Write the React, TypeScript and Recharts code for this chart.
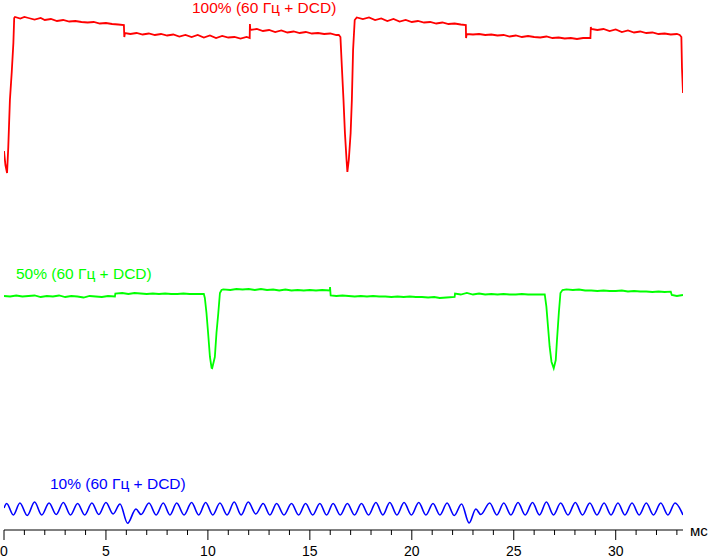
import React from 'react';
import { LineChart, Line, XAxis, YAxis } from 'recharts';

// time in ms, level in arbitrary units (0 = axis line)
const redTrace: [number, number][] = [
  [0, 379], [0.07, 365], [0.15, 357], [0.21, 383], [0.29, 430], [0.38, 458], [0.46, 487], [0.5, 512], [0.54, 513],
  [0.8, 511.5], [1.0, 513], [1.2, 512], [1.5, 510.5], [1.8, 512], [2.0, 510], [2.3, 511], [2.6, 509], [2.9, 510],
  [3.2, 508.5], [3.5, 509], [3.8, 508], [4.1, 507.5], [4.4, 508], [4.7, 506.5], [5.0, 507], [5.3, 506], [5.6, 505.5], [5.88, 505],
  [5.9, 493], [5.93, 497],
  [6.2, 496], [6.5, 497], [6.8, 495.5], [7.1, 496.5], [7.4, 495], [7.7, 496], [8.0, 494.5], [8.3, 495.5], [8.6, 493.5],
  [8.9, 495], [9.2, 493], [9.5, 495], [9.8, 492.5], [10.1, 494.5], [10.4, 492], [10.7, 494], [11.0, 492.5], [11.3, 493],
  [11.6, 491.5], [11.9, 493], [12.05, 492],
  [12.06, 506], [12.08, 500],
  [12.4, 501], [12.7, 499], [13.0, 500], [13.3, 498], [13.6, 499.5], [13.9, 497.5], [14.2, 498.5], [14.5, 497], [14.8, 498],
  [15.1, 496.5], [15.4, 497], [15.7, 496], [16.0, 496.5], [16.3, 495], [16.42, 495],
  [16.5, 493], [16.57, 463], [16.65, 430], [16.72, 397], [16.8, 370], [16.84, 358], [16.91, 370], [17.0, 397], [17.06, 430],
  [17.12, 480], [17.2, 510], [17.3, 512.5],
  [17.6, 511], [17.9, 512.5], [18.2, 510], [18.5, 511.5], [18.8, 509], [19.1, 511], [19.4, 508.5], [19.7, 510], [20.0, 508],
  [20.3, 509], [20.6, 507.5], [20.9, 508], [21.2, 506.5], [21.5, 507.5], [21.8, 506], [22.1, 506.5], [22.4, 505.5], [22.65, 505],
  [22.66, 492], [22.69, 496],
  [23.0, 495.5], [23.3, 496], [23.6, 495], [23.9, 495.5], [24.2, 494.5], [24.5, 495], [24.8, 493.5], [25.1, 494.5], [25.4, 493],
  [25.7, 494], [26.0, 493], [26.3, 492.5], [26.6, 493.5], [26.9, 492], [27.2, 492.5], [27.5, 491.5], [27.8, 492], [28.1, 491],
  [28.4, 492], [28.76, 492],
  [28.78, 503], [28.8, 501],
  [29.1, 500], [29.4, 501], [29.7, 499], [30.0, 500.5], [30.3, 498], [30.6, 499.5], [30.9, 497.5], [31.2, 498.5], [31.5, 497],
  [31.8, 497.5], [32.1, 496], [32.4, 496.5], [32.7, 495.5], [33.0, 496], [33.14, 495],
  [33.22, 493], [33.25, 462], [33.3, 437],
];

const greenTrace: [number, number][] = [
  [0, 234], [0.3, 233.5], [0.6, 234.5], [0.9, 233.5], [1.2, 234], [1.5, 234.5], [1.8, 233], [2.1, 234], [2.4, 233.5],
  [2.7, 234.5], [3.0, 233], [3.3, 234], [3.6, 233.5], [3.9, 232.5], [4.2, 234], [4.5, 233.5], [4.8, 233], [5.1, 234], [5.44, 233.5],
  [5.46, 236.5], [5.8, 237], [6.1, 236], [6.4, 237], [6.7, 236.5], [7.0, 236], [7.3, 236.5], [7.6, 236], [7.9, 236.5],
  [8.2, 236], [8.5, 236], [8.8, 236.5], [9.1, 236], [9.4, 236], [9.8, 236],
  [9.85, 232], [9.93, 217], [10.01, 197], [10.1, 173], [10.18, 162], [10.21, 161.7], [10.34, 173], [10.42, 197], [10.51, 217],
  [10.59, 237], [10.67, 240], [10.75, 240.7],
  [11.1, 240], [11.4, 241], [11.7, 240.5], [12.0, 241], [12.3, 240], [12.6, 241], [12.9, 240], [13.2, 240.5], [13.5, 239.5],
  [13.8, 240.5], [14.1, 239.5], [14.4, 240], [14.7, 239.5], [15.0, 240], [15.3, 239.5], [15.6, 240], [15.98, 239.5],
  [15.99, 243], [16.02, 234.5],
  [16.3, 234], [16.6, 234.5], [16.9, 234], [17.2, 233.5], [17.5, 234], [17.8, 233.5], [18.1, 234], [18.4, 233.5], [18.7, 233.5],
  [19.0, 233], [19.3, 233.5], [19.6, 233], [19.9, 233.5], [20.2, 233], [20.5, 233], [20.8, 232.5], [21.1, 233], [21.37, 232],
  [21.7, 232.5], [22.1, 233],
  [22.12, 236.5], [22.4, 235.5], [22.7, 237], [23.0, 235.5], [23.3, 236.5], [23.6, 235.5], [23.9, 236], [24.2, 235.5],
  [24.5, 236], [24.8, 235.5], [25.1, 235.5], [25.4, 236], [25.7, 235.5], [26.0, 235.5], [26.3, 235.5], [26.52, 235.5],
  [26.6, 223.3], [26.68, 203.3], [26.76, 183.3], [26.85, 168.3], [26.96, 161.7], [27.06, 170], [27.12, 190], [27.21, 217],
  [27.29, 237], [27.39, 240], [27.58, 240.7],
  [27.9, 240], [28.2, 240.5], [28.5, 239.5], [28.8, 239.5], [29.1, 239], [29.4, 239.5], [29.7, 239], [30.0, 239], [30.3, 239.5],
  [30.6, 238.5], [30.9, 239], [31.2, 238.5], [31.5, 238.5], [31.8, 238], [32.1, 238.5], [32.4, 238], [32.7, 238.3],
  [32.75, 235], [33.0, 234], [33.3, 235],
];

const blueTrace: [number, number][] = [
  [0, 22], [0.13, 26.5], [0.46, 15], [0.78, 27], [1.14, 14.5], [1.5, 28], [1.85, 15], [2.21, 27], [2.56, 15.5], [2.91, 27.5],
  [3.26, 15], [3.61, 26.5], [3.96, 15], [4.31, 27], [4.65, 15.5], [5.0, 27.5], [5.35, 16], [5.69, 26], [6.06, 6.7], [6.47, 21],
  [6.72, 15.5], [7.11, 27], [7.46, 15], [7.81, 27], [8.14, 15], [8.47, 27], [8.83, 15], [9.2, 27.5], [9.55, 15], [9.89, 27.5],
  [10.24, 15], [10.59, 27], [10.94, 15], [11.29, 28], [11.63, 15], [11.98, 28], [12.35, 16], [12.71, 26.5], [13.04, 15],
  [13.37, 26.5], [13.73, 15], [14.1, 26.5], [14.45, 15], [14.79, 26.5], [15.14, 15], [15.49, 26.5], [15.82, 15], [16.14, 26.5],
  [16.49, 15], [16.84, 26.5], [17.19, 15], [17.53, 26.5], [17.88, 15], [18.24, 27.5], [18.58, 15], [18.92, 27.5], [19.27, 15],
  [19.62, 27.5], [19.98, 15], [20.34, 27.5], [20.69, 15], [21.04, 26.5], [21.38, 15], [21.73, 27], [22.08, 14.5], [22.44, 26],
  [22.81, 7], [23.14, 21], [23.38, 15.5], [23.82, 27], [24.17, 15], [24.51, 27], [24.86, 15], [25.21, 27.5], [25.56, 15],
  [25.92, 27.5], [26.26, 15], [26.6, 28], [26.95, 15], [27.3, 27], [27.66, 15], [28.02, 27.5], [28.37, 15], [28.73, 27],
  [29.08, 15], [29.43, 27], [29.77, 15], [30.11, 27], [30.45, 15], [30.8, 27], [31.15, 15], [31.5, 27], [31.85, 15],
  [32.21, 27], [32.56, 15], [32.91, 27], [33.3, 15],
];

const timeTicks = [
  0, 1, 2, 3, 4, 5, 6, 7, 8, 9, 10, 11, 12, 13, 14, 15, 16,
  17, 18, 19, 20, 21, 22, 23, 24, 25, 26, 27, 28, 29, 30, 31, 32, 33,
];

const labels = [
  { text: '100% (60 Гц + DCD)', color: '#ff0000', x: 192, y: 13 },
  { text: '50% (60 Гц + DCD)', color: '#00ff00', x: 16, y: 279 },
  { text: '10% (60 Гц + DCD)', color: '#0000ff', x: 50, y: 489 },
];

const toPoints = (arr: [number, number][]) => arr.map(([t, v]) => ({ t, v }));

const FONT = '"Liberation Sans", Arial, sans-serif';

function AxisTick(props: any) {
  const { x, y, payload } = props;
  const major = payload.value % 5 === 0;
  return (
    <g>
      <line x1={x} x2={x} y1={y} y2={y + (major ? 10 : 5)} stroke="#000" />
      {major && (
        <text x={x} y={y + 26} textAnchor="middle" fontSize={14} fontFamily={FONT} fill="#000">
          {payload.value}
        </text>
      )}
    </g>
  );
}

export default function App() {
  return (
    <div style={{ position: 'absolute', left: 0, top: 0, width: 711, height: 558, background: '#fff' }}>
      <LineChart width={711} height={558} margin={{ top: 0, right: 28, bottom: 0, left: 4 }}>
        <XAxis
          dataKey="t"
          type="number"
          domain={[0, 33.3]}
          ticks={timeTicks}
          interval={0}
          tick={<AxisTick />}
          tickLine={false}
          tickSize={0}
          tickMargin={0}
          height={28}
          axisLine={{ stroke: '#000' }}
          allowDataOverflow
        />
        <YAxis type="number" domain={[0, 530]} hide allowDataOverflow />
        <Line data={toPoints(redTrace)} dataKey="v" type="linear" stroke="#ff0000" strokeWidth={1.8} dot={false} isAnimationActive={false} />
        <Line data={toPoints(greenTrace)} dataKey="v" type="linear" stroke="#00ff00" strokeWidth={1.8} dot={false} isAnimationActive={false} />
        <Line data={toPoints(blueTrace)} dataKey="v" type="monotone" stroke="#0000ff" strokeWidth={1.6} dot={false} isAnimationActive={false} />
      </LineChart>
      <svg width={711} height={558} style={{ position: 'absolute', left: 0, top: 0, pointerEvents: 'none' }}>
        {labels.map((l) => (
          <text key={l.text} x={l.x} y={l.y} fill={l.color} fontSize={15.5} fontFamily={FONT}>
            {l.text}
          </text>
        ))}
        <text x={690} y={536} fill="#000" fontSize={15} fontFamily={FONT}>мс</text>
      </svg>
    </div>
  );
}
